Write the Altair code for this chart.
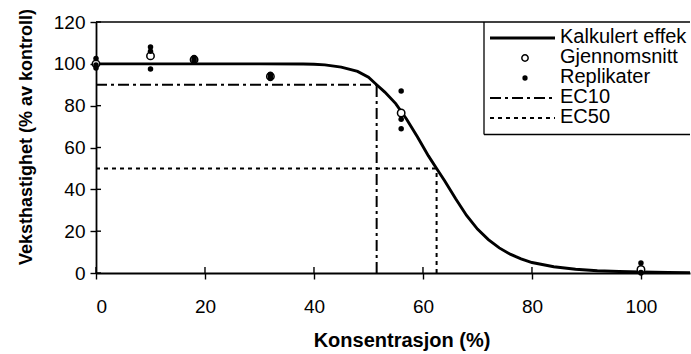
import altair as alt
import pandas as pd

# ---------------- data ----------------
rep_x = [0, 0, 0, 10, 10, 10, 18, 18, 18, 32, 32, 32, 56, 56, 56, 100, 100, 100]
rep_y = [102.5, 99.5, 98, 108, 106, 97.5, 103, 102, 101, 95, 94, 93, 87, 73.5, 69, 4.8, 0.3, 0]

mean_x = [0, 10, 18, 32, 56, 100]
mean_y = [100, 103.8, 102, 94, 76.5, 1.7]

curve_x = [0, 10, 20, 30, 38, 40, 42, 45, 48, 50, 51.5, 53, 55, 57, 59, 61, 62.5, 64, 66,
           68, 70, 72, 74, 76, 78, 80, 84, 88, 92, 96, 100, 105, 109]
curve_y = [100, 100, 100, 100, 99.9, 99.8, 99.5, 98.4, 96.4, 93.6, 90, 86.5, 81, 73.5, 65,
           56, 50, 44, 35.5, 27.5, 21, 16, 12, 9, 6.8, 5, 3, 1.8, 1.1, 0.7, 0.45, 0.3, 0.2]

ec_names = ["EC10", "EC50"]
ec_conc = [51.5, 62.5]
ec_effect = [90, 50]

legend_labels = ["Kalkulert effek", "Gjennomsnitt", "Replikater", "EC10", "EC50"]

x_ticks = [0, 20, 40, 60, 80, 100]
y_ticks = [0, 20, 40, 60, 80, 100, 120]

FONT = "Liberation Sans"
DASH_EC10 = [11, 4, 3, 4]
DASH_EC50 = [4, 4]

reps = pd.DataFrame({"x": rep_x, "y": rep_y})
means = pd.DataFrame({"x": mean_x, "y": mean_y})
curve = pd.DataFrame({"x": curve_x, "y": curve_y})
ec = pd.DataFrame({"name": ec_names, "x": ec_conc, "y": ec_effect,
                   "x0": [0] * len(ec_names), "y0": [0] * len(ec_names)})
xt = pd.DataFrame({"x": x_ticks})
yt = pd.DataFrame({"y": y_ticks})

xscale = alt.Scale(domain=[0, 109], nice=False, zero=False)
yscale = alt.Scale(domain=[0, 120], nice=False)
dash_scale = alt.Scale(domain=ec_names, range=[DASH_EC10, DASH_EC50])

xaxis = alt.Axis(values=x_ticks, title="Konsentrasjon (%)", grid=False,
                 tickSize=6, labelPadding=33, labelBaseline="alphabetic",
                 labelFontSize=19, labelFont=FONT, labelColor="black",
                 titleFont=FONT, titleFontSize=20, titleFontWeight="bold",
                 titleX=305.5, titleY=73.5, titleBaseline="alphabetic",
                 titleAnchor="start", titleAlign="center",
                 domainColor="black", tickColor="black", domainWidth=1.8, tickWidth=1.4)
yaxis = alt.Axis(values=y_ticks, title="Veksthastighet (% av kontroll)", grid=False,
                 tickSize=6, labelPadding=5, labelFontSize=19, labelFont=FONT,
                 labelColor="black",
                 titleFont=FONT, titleFontSize=18, titleFontWeight="bold",
                 titleX=-65, titleY=114.5, titleBaseline="alphabetic",
                 titleAnchor="start", titleAlign="center", titleAngle=-90,
                 domainColor="black", tickColor="black", domainWidth=1.8, tickWidth=1.4)

base_curve = alt.Chart(curve).mark_line(color="black", strokeWidth=2.9, clip=True).encode(
    x=alt.X("x:Q", scale=xscale, axis=xaxis),
    y=alt.Y("y:Q", scale=yscale, axis=yaxis),
)

# inward halves of the crossing tick marks
x_in = alt.Chart(xt).mark_rule(color="black", strokeWidth=1.4).encode(
    x=alt.X("x:Q", scale=xscale), y=alt.value(245), y2=alt.value(251))
y_in = alt.Chart(yt).mark_rule(color="black", strokeWidth=1.4).encode(
    y=alt.Y("y:Q", scale=yscale), x=alt.value(0), x2=alt.value(5))

ec_h = alt.Chart(ec).mark_rule(color="black", strokeWidth=2).encode(
    x=alt.X("x0:Q", scale=xscale), x2="x:Q", y=alt.Y("y:Q", scale=yscale),
    strokeDash=alt.StrokeDash("name:N", scale=dash_scale, legend=None),
)
ec_v = alt.Chart(ec).mark_rule(color="black", strokeWidth=2).encode(
    x=alt.X("x:Q", scale=xscale), y=alt.Y("y0:Q", scale=yscale), y2="y:Q",
    strokeDash=alt.StrokeDash("name:N", scale=dash_scale, legend=None),
)

mean_pts = alt.Chart(means).mark_point(shape="circle", filled=False, fill="white",
                                       color="black", strokeWidth=1.5, size=55,
                                       opacity=1).encode(
    x=alt.X("x:Q", scale=xscale), y=alt.Y("y:Q", scale=yscale))

rep_pts = alt.Chart(reps).mark_circle(color="black", size=30, opacity=1).encode(
    x=alt.X("x:Q", scale=xscale), y=alt.Y("y:Q", scale=yscale))

top_border = alt.Chart(pd.DataFrame({"y": [120]})).mark_rule(color="black", strokeWidth=1.3).encode(
    y=alt.Y("y:Q", scale=yscale), x=alt.value(0), x2=alt.value(594))

# ---------------- legend (drawn in pixel space of the plot) ----------------
one = pd.DataFrame({"k": [0]})
LX0, LX1, LCX, LTX = 394, 459, 429, 464
sym_y = [16 + 20 * i for i in range(5)]
txt_y = [20.5 + 20 * i for i in range(5)]

leg_layers = []
leg_layers.append(alt.Chart(one).mark_rule(color="black", strokeWidth=1.3).encode(
    x=alt.value(388), y=alt.value(0), y2=alt.value(112.5)))
leg_layers.append(alt.Chart(one).mark_rule(color="black", strokeWidth=1.3).encode(
    x=alt.value(388), x2=alt.value(594), y=alt.value(112.5)))
leg_layers.append(alt.Chart(one).mark_rule(color="black", strokeWidth=2.9).encode(
    x=alt.value(LX0), x2=alt.value(LX1), y=alt.value(sym_y[0])))
leg_layers.append(alt.Chart(one).mark_point(shape="circle", filled=False, fill="white",
                                            color="black", strokeWidth=1.5, size=40,
                                            opacity=1).encode(
    x=alt.value(LCX), y=alt.value(sym_y[1])))
leg_layers.append(alt.Chart(one).mark_circle(color="black", size=28, opacity=1).encode(
    x=alt.value(LCX), y=alt.value(sym_y[2])))
leg_layers.append(alt.Chart(one).mark_rule(color="black", strokeWidth=2,
                                           strokeDash=DASH_EC10).encode(
    x=alt.value(LX0), x2=alt.value(LX1), y=alt.value(sym_y[3])))
leg_layers.append(alt.Chart(one).mark_rule(color="black", strokeWidth=2,
                                           strokeDash=DASH_EC50).encode(
    x=alt.value(LX0), x2=alt.value(LX1), y=alt.value(sym_y[4])))
for i, lab in enumerate(legend_labels):
    leg_layers.append(alt.Chart(one).mark_text(font=FONT, fontSize=20, color="black",
                                               align="left", baseline="alphabetic").encode(
        x=alt.value(LTX), y=alt.value(txt_y[i]), text=alt.value(lab)))

chart = alt.layer(ec_h, ec_v, base_curve, x_in, y_in, mean_pts, rep_pts, top_border,
                  *leg_layers).properties(
    width=594, height=251,
    autosize=alt.AutoSizeParams(type="none"),
    padding={"left": 96, "top": 22, "right": 1, "bottom": 81},
    background="white",
).configure_view(stroke=None)

chart.save("out.html", embed_options={"renderer": "svg", "actions": False})
